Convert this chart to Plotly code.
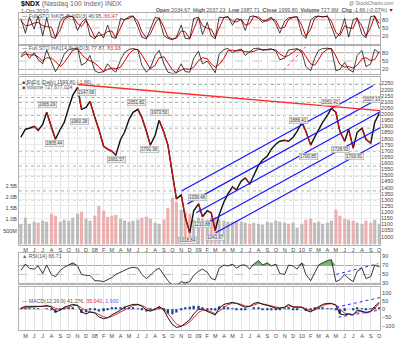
import plotly.graph_objects as go
import pandas as pd

W, H = 400, 341

# ---------------- data (semi-monthly samples) ----------------
dates = pd.date_range("2007-04-15", "2010-10-01", freq="SMS")

price = [1812, 1877, 1885, 1901, 1868, 1917, 2015, 1893, 1795, 1877,
         1933, 2055, 2153, 2218, 2039, 2055, 2104, 1974, 1877, 1738,
         1714, 1698, 1665, 1795, 1852, 1958, 2015, 2039, 1974, 1860,
         1747, 1828, 1950, 1852, 1747, 1511, 1308, 1341, 1162, 1030,
         1211, 1268, 1162, 1211, 1194, 1050, 1178, 1284, 1349, 1406,
         1381, 1454, 1479, 1430, 1503, 1584, 1625, 1657, 1714, 1755,
         1779, 1787, 1779, 1812, 1860, 1933, 1860, 1747, 1812, 1877,
         1933, 1990, 2047, 2015, 1860, 1779, 1877, 1722, 1852, 1885,
         1795, 1763, 1933, 2006]

volume_b = [0.93, 1.20, 0.93, 1.02, 0.98, 1.07, 1.02, 1.38, 1.29, 1.02,
            1.11, 1.07, 1.20, 1.38, 1.47, 1.16, 1.07, 1.29, 1.73, 1.51,
            1.24, 1.29, 1.33, 1.16, 1.07, 1.02, 1.07, 1.11, 1.20, 1.24,
            1.16, 0.98, 0.93, 1.11, 1.64, 2.09, 1.91, 1.56, 1.47, 1.38,
            1.11, 1.20, 1.16, 1.11, 1.20, 1.24, 1.11, 1.07, 1.02, 1.02,
            1.07, 1.02, 0.98, 0.93, 0.98, 0.93, 0.89, 1.02, 0.98, 1.07,
            1.02, 0.98, 0.93, 0.98, 0.76, 0.93, 1.11, 1.16, 0.98, 1.02,
            0.93, 0.98, 1.07, 1.56, 1.29, 1.16, 1.11, 1.07, 0.98, 0.93,
            1.07, 0.98, 1.11, 0.93]

sto5_k = [85, 30, 90, 45, 95, 20, 88, 15, 10, 75,
          90, 95, 92, 40, 70, 85, 20, 8, 35, 12,
          60, 15, 10, 85, 80, 92, 95, 55, 15, 8,
          45, 90, 85, 20, 10, 5, 15, 60, 10, 8,
          85, 90, 25, 70, 20, 8, 90, 88, 93, 60,
          85, 80, 40, 92, 95, 85, 70, 80, 90, 65,
          30, 75, 88, 90, 92, 25, 10, 80, 92, 94,
          90, 95, 55, 10, 30, 85, 15, 80, 88, 25,
          12, 92, 95, 47]
sto5_d = [75, 58, 60, 68, 70, 58, 54, 52, 13, 42,
          82, 92, 93, 66, 55, 78, 52, 14, 21, 24,
          36, 38, 12, 48, 82, 86, 93, 75, 35, 12,
          26, 68, 88, 52, 15, 8, 10, 38, 35, 9,
          46, 88, 58, 48, 45, 14, 49, 89, 90, 76,
          72, 82, 60, 66, 93, 90, 78, 75, 85, 78,
          48, 52, 82, 89, 91, 58, 18, 45, 86, 93,
          92, 92, 75, 32, 20, 58, 50, 48, 84, 56,
          18, 52, 94, 66]

sto14_k = [70, 85, 60, 80, 55, 40, 90, 45, 12, 40,
           75, 92, 95, 96, 35, 45, 70, 15, 8, 12,
           40, 20, 10, 55, 80, 92, 95, 90, 35, 10,
           25, 70, 88, 40, 10, 5, 8, 40, 12, 10,
           60, 85, 40, 50, 30, 8, 75, 92, 95, 80,
           88, 93, 70, 85, 95, 96, 88, 92, 94, 85,
           55, 60, 90, 92, 95, 80, 30, 15, 60, 88,
           95, 96, 94, 15, 20, 45, 20, 10, 70, 88,
           30, 40, 92, 78]
sto14_d = [65, 75, 72, 72, 65, 50, 62, 60, 48, 30,
           45, 70, 88, 94, 75, 58, 52, 42, 30, 12,
           20, 25, 22, 28, 50, 76, 90, 92, 72, 45,
           22, 35, 62, 65, 45, 18, 8, 18, 22, 20,
           28, 52, 62, 58, 40, 28, 38, 60, 88, 89,
           86, 88, 84, 82, 85, 92, 92, 90, 92, 90,
           75, 65, 70, 82, 92, 88, 65, 40, 35, 55,
           80, 92, 95, 68, 38, 28, 30, 25, 35, 58,
           62, 52, 55, 84]

rsi14 = [59, 73, 64, 62, 69, 52, 71, 50, 45, 59,
         66, 71, 76, 69, 50, 48, 48, 36, 36, 34,
         38, 43, 50, 55, 59, 64, 66, 64, 50, 41,
         48, 59, 64, 50, 36, 26, 24, 34, 31, 34,
         48, 57, 62, 55, 41, 38, 64, 71, 69, 73,
         64, 71, 71, 62, 73, 81, 71, 76, 69, 73,
         52, 50, 71, 69, 62, 76, 50, 36, 52, 71,
         76, 81, 83, 34, 38, 50, 41, 34, 57, 64,
         41, 45, 71, 67]

macd_line = [6, 17, 17, 17, 17, 17, 23, 12, -17, -6,
             12, 23, 29, 23, -17, -29, -17, -23, -46, -58,
             -52, -35, -23, -6, 12, 23, 29, 29, 17, -6,
             -12, 0, 17, -6, -52, -93, -110, -104, -87, -64,
             -29, 0, 0, -12, -23, -35, 6, 29, 35, 41,
             35, 23, 12, 17, 35, 41, 29, 23, 17, 6,
             6, 12, 29, 12, 12, 12, -6, -17, 0, 17,
             29, 35, 35, 23, -29, -35, -29, -35, -6, -12,
             -23, -12, 17, 41]
macd_signal = [4, 8, 12, 14, 16, 17, 19, 17, 5, -1,
               3, 12, 21, 23, 6, -10, -16, -20, -32, -46,
               -51, -44, -32, -17, -2, 12, 22, 27, 23, 8,
               -4, -4, 7, 4, -25, -62, -90, -102, -95, -78,
               -50, -20, -6, -8, -16, -27, -12, 12, 27, 36,
               36, 29, 19, 17, 26, 35, 33, 27, 21, 12,
               8, 10, 20, 16, 13, 12, 3, -10, -6, 8,
               21, 30, 33, 28, -2, -24, -29, -32, -18, -13,
               -18, -15, 4, 35]
macd_hist = [2, 9, 5, 3, 1, 0, 4, -5, -22, -5,
             9, 11, 8, 0, -23, -19, -1, -3, -14, -12,
             -1, 9, 9, 11, 14, 11, 7, 2, -6, -14,
             -8, 4, 10, -10, -27, -31, -20, -2, 8, 14,
             21, 20, 6, -4, -7, -8, 18, 17, 8, 5,
             -1, -6, -7, 0, 9, 6, -4, -4, -4, -6,
             -2, 2, 9, -4, -1, 0, -9, -7, 6, 9,
             8, 5, 2, -5, -27, -11, 0, -3, 12, 1,
             -5, 3, 13, 6]

# price level labels (date, price, text)
label_dates = ["2007-07-17", "2007-08-13", "2007-11-09", "2007-12-04", "2008-03-17",
               "2008-05-26", "2008-07-11", "2008-08-16", "2008-11-23", "2008-12-28",
               "2009-01-15", "2009-03-03", "2009-12-20", "2010-01-25", "2010-04-11",
               "2010-05-19", "2010-07-04", "2010-09-08"]
label_prices = [2078, 1763, 1941, 2177, 1633, 2096, 1714, 2015, 967, 1316,
                1097, 991, 1950, 1657, 2096, 1714, 1657, 2120]
label_texts = ["2065.29", "1805.44", "1960.38", "2147.68", "1661.57", "2051.82",
               "1791.36", "1973.50", "1018.84", "1336.48", "1210.88", "1043.87",
               "1886.41", "1700.85", "2051.41", "1728.93", "1700.91", "2027.13"]

# dotted horizontal support / resistance levels
level_prices = [2242, 2136, 2096, 2047, 1990, 1885, 1803, 1698, 1576, 1495, 1373, 1300]

# trend channel (blue) and resistance (red)
chan_start_d = ["2008-11-02", "2008-11-23", "2008-12-24", "2009-02-08", "2009-03-03"]
chan_start_p = [1373, 1267, 1194, 1121, 1032]
chan_end_d = ["2010-09-10", "2010-10-04", "2010-10-04", "2010-10-04", "2010-10-04"]
chan_end_p = [2234, 2134, 2020, 1889, 1769]
res_d = ["2007-11-01", "2010-10-04"]
res_p = [2242, 2028]
rsi_tl_d = ["2010-05-02", "2010-09-27"]
rsi_tl_v = [50, 74]
macd_up_d = ["2010-05-02", "2010-10-04"]
macd_up_v = [12, 70]
macd_lo_d = ["2010-05-10", "2010-10-04"]
macd_lo_v = [-48, -5]
sto_tl_d = ["2009-10-28", "2010-01-14"]
sto_tl_v = [17, 101]

price_ticks = list(range(1000, 2251, 50))
vol_ticks = [0.5, 1.0, 1.5, 2.0, 2.5]
vol_tick_text = ["500M", "1.0B", "1.5B", "2.0B", "2.5B"]
month_ticks = pd.date_range("2007-05-01", "2010-10-01", freq="MS")
letters = "JFMAMJJASOND"
month_text = [f"{d.year % 100:02d}" if d.month == 1 else letters[d.month - 1] for d in month_ticks]

# ---------------- layout geometry ----------------
def dom(top, bottom):
    return [1 - bottom / H, 1 - top / H]

XD = [19 / W, 382 / W]
XR = ["2007-04-08", "2010-10-04"]
FONT = "Liberation Sans, Arial, sans-serif"
TF = dict(size=5.5, color="#444", family=FONT)
DAY_MS = 24 * 3600 * 1000

fig = go.Figure()

# panel 1: fast stochastics
fig.add_trace(go.Scatter(x=dates, y=sto5_d, mode="lines", line=dict(color="#d40000", width=1),
                         xaxis="x", yaxis="y"))
fig.add_trace(go.Scatter(x=dates, y=sto5_k, mode="lines", line=dict(color="#111", width=0.8),
                         xaxis="x", yaxis="y"))
# panel 2: slow stochastics
fig.add_trace(go.Scatter(x=dates, y=sto14_d, mode="lines", line=dict(color="#d40000", width=1),
                         xaxis="x2", yaxis="y2"))
fig.add_trace(go.Scatter(x=dates, y=sto14_k, mode="lines", line=dict(color="#111", width=0.8),
                         xaxis="x2", yaxis="y2"))

# main panel: volume (base axis) + price (overlay)
vol_colors = ["#b6b6b6"] + ["#b6b6b6" if price[i] >= price[i - 1] else "#eba8a8" for i in range(1, len(price))]
fig.add_trace(go.Bar(x=dates, y=volume_b, base=-0.12, marker=dict(color=vol_colors, line=dict(width=0)),
                     width=11 * DAY_MS, opacity=0.9, xaxis="x3", yaxis="y3"))
fig.add_trace(go.Scatter(x=dates, y=price, mode="lines", line=dict(color="#111", width=1.4),
                         xaxis="x3", yaxis="y4"))
red_x, red_y = [], []
for i in range(1, len(price)):
    if price[i] < price[i - 1]:
        red_x += [dates[i - 1], dates[i], None]
        red_y += [price[i - 1], price[i], None]
fig.add_trace(go.Scatter(x=red_x, y=red_y, mode="lines", line=dict(color="#cc1010", width=1.2),
                         xaxis="x3", yaxis="y4"))

# RSI panel
fig.add_trace(go.Scatter(x=dates, y=[70] * len(dates), mode="lines", line=dict(width=0),
                         xaxis="x4", yaxis="y5"))
fig.add_trace(go.Scatter(x=dates, y=[max(v, 70) for v in rsi14], mode="lines", line=dict(width=0),
                         fill="tonexty", fillcolor="rgba(70,150,60,0.7)", xaxis="x4", yaxis="y5"))
fig.add_trace(go.Scatter(x=dates, y=rsi14, mode="lines", line=dict(color="#222", width=0.9),
                         xaxis="x4", yaxis="y5"))

# MACD panel
fig.add_trace(go.Bar(x=dates, y=macd_hist, marker=dict(color="#1d3f8f", line=dict(width=0)),
                     width=8 * DAY_MS, xaxis="x5", yaxis="y6"))
fig.add_trace(go.Scatter(x=dates, y=macd_signal, mode="lines", line=dict(color="#e03030", width=1),
                         xaxis="x5", yaxis="y6"))
fig.add_trace(go.Scatter(x=dates, y=macd_line, mode="lines", line=dict(color="#111", width=1),
                         xaxis="x5", yaxis="y6"))

# ---------------- axes ----------------
def xax(anchor, labels):
    return dict(domain=XD, range=XR, type="date", anchor=anchor, tickvals=month_ticks,
                ticktext=month_text, showticklabels=labels, tickfont=TF, ticks="",
                showgrid=True, gridcolor="#e4e4e4", gridwidth=0.6, showline=True,
                linecolor="#b0b0b0", linewidth=0.8, mirror=True, zeroline=False)

def yax(d, rng, tv, tt=None, side="right", anchor=None):
    a = dict(domain=d, range=rng, tickvals=tv, side=side, tickfont=TF, ticks="",
             showgrid=False, showline=True, linecolor="#b0b0b0", linewidth=0.8,
             mirror=True, zeroline=False, anchor=anchor)
    if tt is not None:
        a["ticktext"] = tt
    return a

layout = dict(
    width=W, height=H, margin=dict(l=0, r=0, t=0, b=0), showlegend=False,
    paper_bgcolor="white", plot_bgcolor="white", font=dict(family=FONT), barmode="overlay",
    xaxis=xax("y", False), xaxis2=xax("y2", False), xaxis3=xax("y3", True),
    xaxis4=xax("y5", False), xaxis5=xax("y6", True),
    yaxis=yax(dom(13, 44), [-10, 106], [20, 50, 80], anchor="x"),
    yaxis2=yax(dom(46, 74), [5, 105], [20, 50, 80], anchor="x2"),
    yaxis3=yax(dom(77, 246), [-0.12, 7.39], vol_ticks, vol_tick_text, side="left", anchor="x3"),
    yaxis5=yax(dom(254, 286), [28, 99], [30, 50, 70, 90], anchor="x4"),
    yaxis6=yax(dom(289, 332), [-126, 132], [-100, -50, 0, 50, 100], anchor="x5"),
)
layout["yaxis4"] = dict(overlaying="y3", anchor="x3", side="right", range=[935, 2307],
                        tickvals=price_ticks, tickfont=TF, ticks="", showgrid=True,
                        gridcolor="#ececec", gridwidth=0.6, zeroline=False, showline=False)
layout["xaxis3"]["ticklabelstandoff"] = 0
layout["xaxis5"]["ticklabelstandoff"] = 0
fig.update_layout(**layout)

# ---------------- shapes ----------------
shapes = []
def hline(xref, yref, yv, color, dash="solid", width=0.8):
    shapes.append(dict(type="line", xref=xref + " domain", yref=yref, x0=0, x1=1, y0=yv, y1=yv,
                       line=dict(color=color, width=width, dash=dash), layer="below"))

for xr, yr in (("x", "y"), ("x2", "y2")):
    hline(xr, yr, 80, "#9a9a9a")
    hline(xr, yr, 20, "#9a9a9a")
    hline(xr, yr, 50, "#b5b5b5", "dash")
hline("x4", "y5", 70, "#9a9a9a")
hline("x4", "y5", 30, "#9a9a9a")
hline("x4", "y5", 50, "#b5b5b5", "dash")
hline("x5", "y6", 0, "#b5b5b5", "solid", 0.6)
for lp in level_prices:
    hline("x3", "y4", lp, "#8fae8f", "dot", 0.9)

for d0, p0, d1, p1 in zip(chan_start_d, chan_start_p, chan_end_d, chan_end_p):
    shapes.append(dict(type="line", xref="x3", yref="y4", x0=d0, y0=p0, x1=d1, y1=p1,
                       line=dict(color="#1515ff", width=1.2)))
shapes.append(dict(type="line", xref="x3", yref="y4", x0=res_d[0], y0=res_p[0], x1=res_d[1], y1=res_p[1],
                   line=dict(color="#ff2a2a", width=1.3)))
shapes.append(dict(type="line", xref="x4", yref="y5", x0=rsi_tl_d[0], y0=rsi_tl_v[0], x1=rsi_tl_d[1],
                   y1=rsi_tl_v[1], line=dict(color="#2030ff", width=1, dash="dot")))
shapes.append(dict(type="line", xref="x5", yref="y6", x0=macd_up_d[0], y0=macd_up_v[0], x1=macd_up_d[1],
                   y1=macd_up_v[1], line=dict(color="#2030ff", width=1, dash="dot")))
shapes.append(dict(type="line", xref="x5", yref="y6", x0=macd_lo_d[0], y0=macd_lo_v[0], x1=macd_lo_d[1],
                   y1=macd_lo_v[1], line=dict(color="#2030ff", width=1, dash="dot")))
shapes.append(dict(type="line", xref="x2", yref="y2", x0=sto_tl_d[0], y0=sto_tl_v[0], x1=sto_tl_d[1],
                   y1=sto_tl_v[1], line=dict(color="#ff3030", width=1, dash="dot")))
fig.update_layout(shapes=shapes)

# ---------------- annotations ----------------
ann = []
def txt(x, y, s, size=5.5, color="#333", xanchor="left"):
    ann.append(dict(xref="paper", yref="paper", x=x / W, y=1 - y / H, text=s, showarrow=False,
                    xanchor=xanchor, yanchor="middle", font=dict(size=size, color=color, family=FONT)))

txt(19, 4.5, "<b>$NDX</b> <span style='color:#666'>(Nasdaq 100 Index) INDX</span>", 7, "#000")
txt(19, 11, "1-Oct-2010", 5.5, "#555")
txt(398, 3.5, "@ StockCharts.com", 5, "#777", "right")
txt(398, 10.5, "<b>Open</b> 2034.67  <b>High</b> 2037.23  <b>Low</b> 1987.71  <b>Close</b> 1999.80  "
    "<b>Volume</b> 727.6M  <b>Chg</b> -1.66 (-0.07%) <span style='color:#c00'>▼</span>", 5.3, "#555", "right")
txt(20, 16, "— Full STO %K(5,3) %D(3) 46.95, <span style='color:#e03030'>66.47</span>", 5.3, "#555")
txt(20, 48, "— Full STO %K(14,3) %D(3) 77.87, <span style='color:#e03030'>83.93</span>", 5.3, "#555")
txt(20, 82.5, "■ $NDX (Daily) 1999.80 (-1.66)", 5, "#555")
txt(20, 87.5, "■ Volume 727,677,024", 5, "#555")
txt(20, 258, "<span style='color:#3a8a2a'>▲</span> RSI(14) 66.71", 5.3, "#555")
txt(20, 303, "— MACD(12,26,9) 41.276, <span style='color:#e03030'>35.040</span>, "
    "<span style='color:#5060d0'>1.930</span>", 5.3, "#555")

for d, p, t in zip(label_dates, label_prices, label_texts):
    ann.append(dict(xref="x3", yref="y4", x=d, y=p, text=t, showarrow=False,
                    font=dict(size=4.5, color="#444", family=FONT), bgcolor="rgba(238,238,238,0.95)",
                    bordercolor="#9a9a9a", borderwidth=0.5, borderpad=0.5))
fig.update_layout(annotations=ann)

fig.write_html("out.html")
